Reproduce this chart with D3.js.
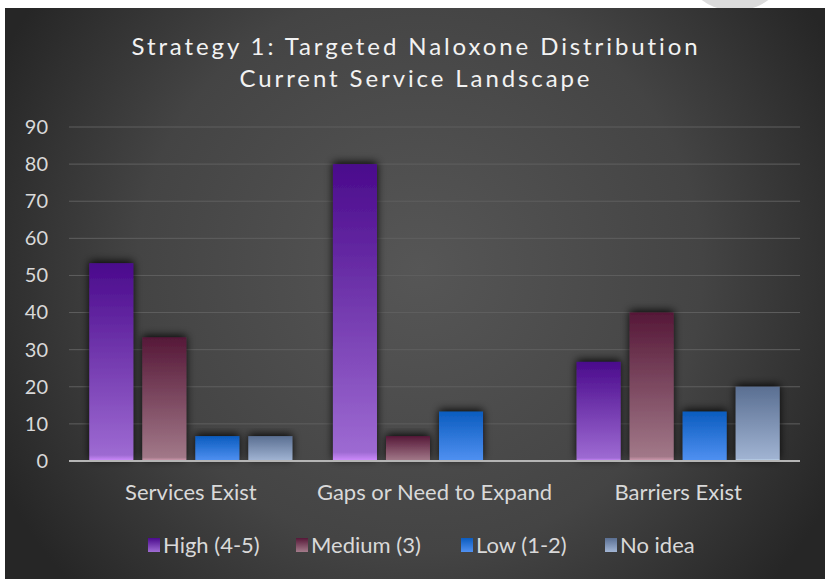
<!DOCTYPE html>
<html>
<head>
<meta charset="utf-8">
<script src="https://cdn.jsdelivr.net/npm/d3@7"></script>
<style>
  html, body { margin: 0; padding: 0; background: #fff; }
  svg { display: block; }
</style>
</head>
<body>
<div class="container"></div>
<script>
(function() {
  // Chart data
  var categories = ['Services Exist', 'Gaps or Need to Expand', 'Barriers Exist'];
  var seriesNames = ['High (4-5)', 'Medium (3)', 'Low (1-2)', 'No idea'];
  var highValues = [53.3, 80, 26.7];
  var mediumValues = [33.3, 6.7, 40];
  var lowValues = [6.7, 13.3, 13.3];
  var noIdeaValues = [6.7, 0, 20];
  var yTicks = [0, 10, 20, 30, 40, 50, 60, 70, 80, 90];
  var titleLines = ['Strategy 1: Targeted Naloxone Distribution', 'Current Service Landscape'];

  var seriesValues = [highValues, mediumValues, lowValues, noIdeaValues];

  // gradient colours per series: top, bottom
  var seriesColors = [
    ['#4a0a8c', '#9d6ad2'],
    ['#561838', '#a17888'],
    ['#0b5cbf', '#4e8ff0'],
    ['#5a6f92', '#a0b3d2']
  ];

  var options = {
    width: 825,
    height: 579,
    plotLeft: 69,
    plotRight: 800,
    plotTop: 127,
    plotBottom: 461
  };

  var svg = d3.select('div.container').append('svg')
    .attr('width', options.width)
    .attr('height', options.height);

  var defs = svg.append('defs');

  // Background gradient
  var bg = defs.append('radialGradient')
    .attr('id', 'bg')
    .attr('gradientUnits', 'userSpaceOnUse')
    .attr('cx', 420).attr('cy', 270).attr('r', 470);
  bg.append('stop').attr('offset', '0%').attr('stop-color', '#565656');
  bg.append('stop').attr('offset', '60%').attr('stop-color', '#444444');
  bg.append('stop').attr('offset', '100%').attr('stop-color', '#262626');

  seriesColors.forEach(function(c, i) {
    var g = defs.append('linearGradient')
      .attr('id', 'bar' + i)
      .attr('x1', 0).attr('y1', 0).attr('x2', 0).attr('y2', 1);
    g.append('stop').attr('offset', '0%').attr('stop-color', c[0]);
    g.append('stop').attr('offset', '97%').attr('stop-color', c[1]);
    g.append('stop').attr('offset', '100%').attr('stop-color', d3.color(c[1]).brighter(0.8));
  });

  var shadow = defs.append('filter')
    .attr('id', 'shadow')
    .attr('x', '-30%').attr('y', '-30%').attr('width', '160%').attr('height', '160%');
  shadow.append('feDropShadow')
    .attr('dx', 0).attr('dy', -2)
    .attr('stdDeviation', 4)
    .attr('flood-color', '#000')
    .attr('flood-opacity', 0.9);

  // page decoration: grey circle at top right
  svg.append('circle')
    .attr('cx', 735).attr('cy', -45).attr('r', 56)
    .attr('fill', '#dcdcdc');

  // chart panel
  svg.append('rect')
    .attr('x', 5).attr('y', 8)
    .attr('width', options.width - 5).attr('height', options.height - 8)
    .attr('fill', 'url(#bg)');

  // Title
  svg.append('g').selectAll('text')
    .data(titleLines)
    .enter().append('text')
    .attr('x', 416)
    .attr('y', function(d, i) { return 55 + i * 32; })
    .attr('text-anchor', 'middle')
    .attr('fill', '#f2f2f2')
    .style('font-family', 'Lato, sans-serif')
    .style('font-size', '24px')
    .style('letter-spacing', '2.9px')
    .text(function(d) { return d; });

  // Scales
  var x0 = d3.scaleBand()
    .domain(categories)
    .range([options.plotLeft, options.plotRight])
    .paddingInner(0).paddingOuter(0);

  var groupPad = 20.3;
  var x1 = d3.scaleBand()
    .domain(d3.range(seriesNames.length))
    .range([groupPad, x0.bandwidth() - groupPad])
    .paddingInner(0.17).paddingOuter(0);

  var y = d3.scaleLinear()
    .domain([0, 90])
    .range([options.plotBottom, options.plotTop]);

  // Gridlines
  svg.append('g').selectAll('line')
    .data(yTicks.slice(1))
    .enter().append('line')
    .attr('x1', options.plotLeft).attr('x2', options.plotRight)
    .attr('y1', function(d) { return y(d); })
    .attr('y2', function(d) { return y(d); })
    .attr('stroke', '#5f5f5f')
    .attr('stroke-width', 1);

  // Y axis
  var yAxis = svg.append('g')
    .attr('transform', 'translate(' + 48 + ',0)')
    .call(d3.axisLeft(y).tickValues(yTicks).tickSize(0).tickPadding(0));
  yAxis.select('.domain').remove();
  yAxis.selectAll('text')
    .attr('fill', '#d9d9d9')
    .style('font-family', 'Lato, sans-serif')
    .style('font-size', '20px');

  // Bars
  var groups = svg.append('g').selectAll('g')
    .data(categories)
    .enter().append('g')
    .attr('transform', function(d) { return 'translate(' + x0(d) + ',0)'; });

  groups.selectAll('rect')
    .data(function(d, ci) {
      return seriesValues.map(function(vals, si) { return { s: si, v: vals[ci] }; });
    })
    .enter().append('rect')
    .filter(function(d) { return d.v > 0; })
    .attr('x', function(d) { return x1(d.s); })
    .attr('y', function(d) { return y(d.v); })
    .attr('width', x1.bandwidth())
    .attr('height', function(d) { return y(0) - y(d.v); })
    .attr('fill', function(d) { return 'url(#bar' + d.s + ')'; })
    .attr('filter', 'url(#shadow)');

  // baseline
  svg.append('line')
    .attr('x1', options.plotLeft).attr('x2', options.plotRight)
    .attr('y1', y(0)).attr('y2', y(0))
    .attr('stroke', '#b5b5b5')
    .attr('stroke-width', 2);

  // Category labels
  svg.append('g').selectAll('text')
    .data(categories)
    .enter().append('text')
    .attr('x', function(d) { return x0(d) + x0.bandwidth() / 2; })
    .attr('y', 500)
    .attr('text-anchor', 'middle')
    .attr('fill', '#d9d9d9')
    .style('font-family', 'Lato, sans-serif')
    .style('font-size', '22px')
    .text(function(d) { return d; });

  // Legend
  var legendX = [148, 296, 461, 605];
  var legend = svg.append('g').selectAll('g')
    .data(seriesNames)
    .enter().append('g')
    .attr('transform', function(d, i) { return 'translate(' + legendX[i] + ',538)'; });
  legend.append('rect')
    .attr('width', 12).attr('height', 14)
    .attr('fill', function(d, i) { return 'url(#bar' + i + ')'; });
  legend.append('text')
    .attr('x', 15).attr('y', 15)
    .attr('fill', '#d9d9d9')
    .style('font-family', 'Lato, sans-serif')
    .style('font-size', '22px')
    .text(function(d) { return d; });
}).call(this);
</script>
</body>
</html>
